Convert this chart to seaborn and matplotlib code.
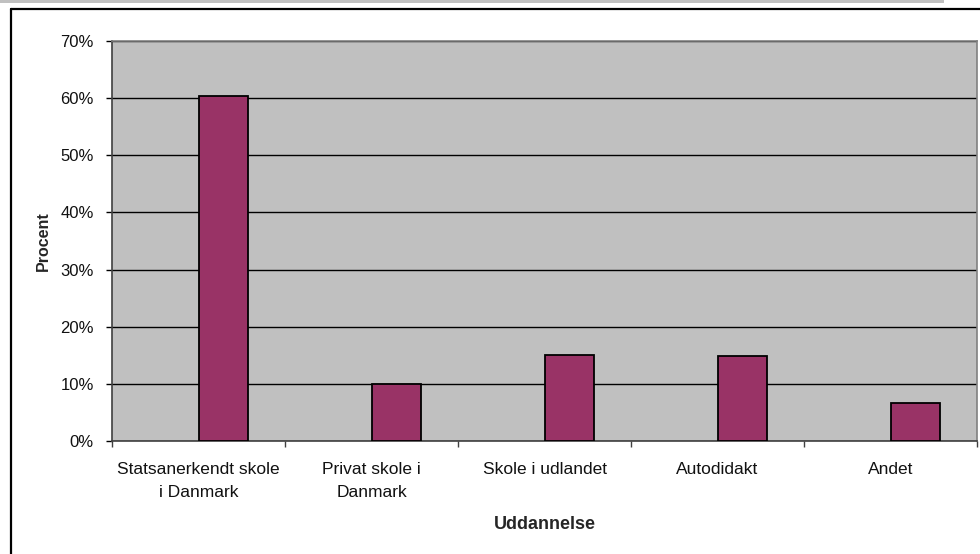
import matplotlib
matplotlib.use("Agg")
import matplotlib.pyplot as plt
from matplotlib.lines import Line2D
from matplotlib.patches import Rectangle
from matplotlib.ticker import FuncFormatter
import seaborn as sns
import pandas as pd

# Survey answers: share of respondents by type of education
categories = ["Statsanerkendt skole\ni Danmark", "Privat skole i\nDanmark",
              "Skole i udlandet", "Autodidakt", "Andet"]
shares = [60.4, 10.0, 15.0, 14.8, 6.6]
series_levels = ["", "Procent"]
y_ticks = [0, 10, 20, 30, 40, 50, 60, 70]

df = pd.DataFrame({"Uddannelse": categories,
                   "Procent": shares,
                   "Serie": "Procent"})

sns.set_theme(style="white")
plt.rcParams["font.family"] = ["Liberation Sans", "DejaVu Sans"]

fig = plt.figure(figsize=(9.8, 5.54), dpi=100)
ax = fig.add_axes([112 / 980, 1 - 441 / 554, 865 / 980, 400 / 554])
ax.set_facecolor("#C0C0C0")

sns.barplot(data=df, x="Uddannelse", y="Procent", hue="Serie",
            hue_order=series_levels, order=categories,
            palette={"": "#993366", "Procent": "#993366"}, saturation=1,
            width=0.571, dodge=True, edgecolor="black", linewidth=1.3,
            legend=False, ax=ax, zorder=3)

ax.set_xlim(-0.5, len(categories) - 0.5)
ax.set_ylim(0, 70)
ax.set_yticks(y_ticks)
ax.yaxis.set_major_formatter(FuncFormatter(lambda v, _: f"{v:.0f}%"))
ax.grid(axis="y", color="black", linewidth=1.0, zorder=1)
ax.set_axisbelow(True)

# category boundaries carry the tick marks, labels sit between them
ax.set_xticks([i - 0.5 for i in range(len(categories) + 1)])
ax.set_xticklabels([])
ax.set_xticks(range(len(categories)), labels=categories, minor=True)
ax.tick_params(axis="x", which="major", direction="out", length=4,
               width=1, color="#404040", bottom=True)
ax.tick_params(axis="x", which="minor", length=0, pad=15,
               labelsize=12.5, labelcolor="#111111")
for lbl in ax.get_xticklabels(minor=True):
    lbl.set_linespacing(1.65)
ax.tick_params(axis="y", direction="out", length=4, width=1,
               color="black", left=True, pad=9, labelsize=12,
               labelcolor="#111111")

for side in ["top", "right"]:
    ax.spines[side].set_color("#808080")
    ax.spines[side].set_linewidth(1.2)
for side in ["left", "bottom"]:
    ax.spines[side].set_color("#404040")
    ax.spines[side].set_linewidth(1.2)

ax.set_xlabel("Uddannelse", fontsize=13, fontweight="bold", labelpad=12)
ax.set_ylabel("Procent", fontsize=11.5, fontweight="bold", labelpad=7)

# outer frame and header strip
fig.patches.append(Rectangle((0, 1 - 3 / 554), 944 / 980, 3 / 554,
                             transform=fig.transFigure, facecolor="#C0C0C0",
                             edgecolor="none"))
fig.lines.append(Line2D([10.5 / 980, 10.5 / 980], [0, 1 - 9 / 554],
                        transform=fig.transFigure, color="black", linewidth=1.6))
fig.lines.append(Line2D([10.5 / 980, 1], [1 - 9 / 554, 1 - 9 / 554],
                        transform=fig.transFigure, color="black", linewidth=1.6))

fig.savefig("out.png", dpi=100, facecolor="white")
